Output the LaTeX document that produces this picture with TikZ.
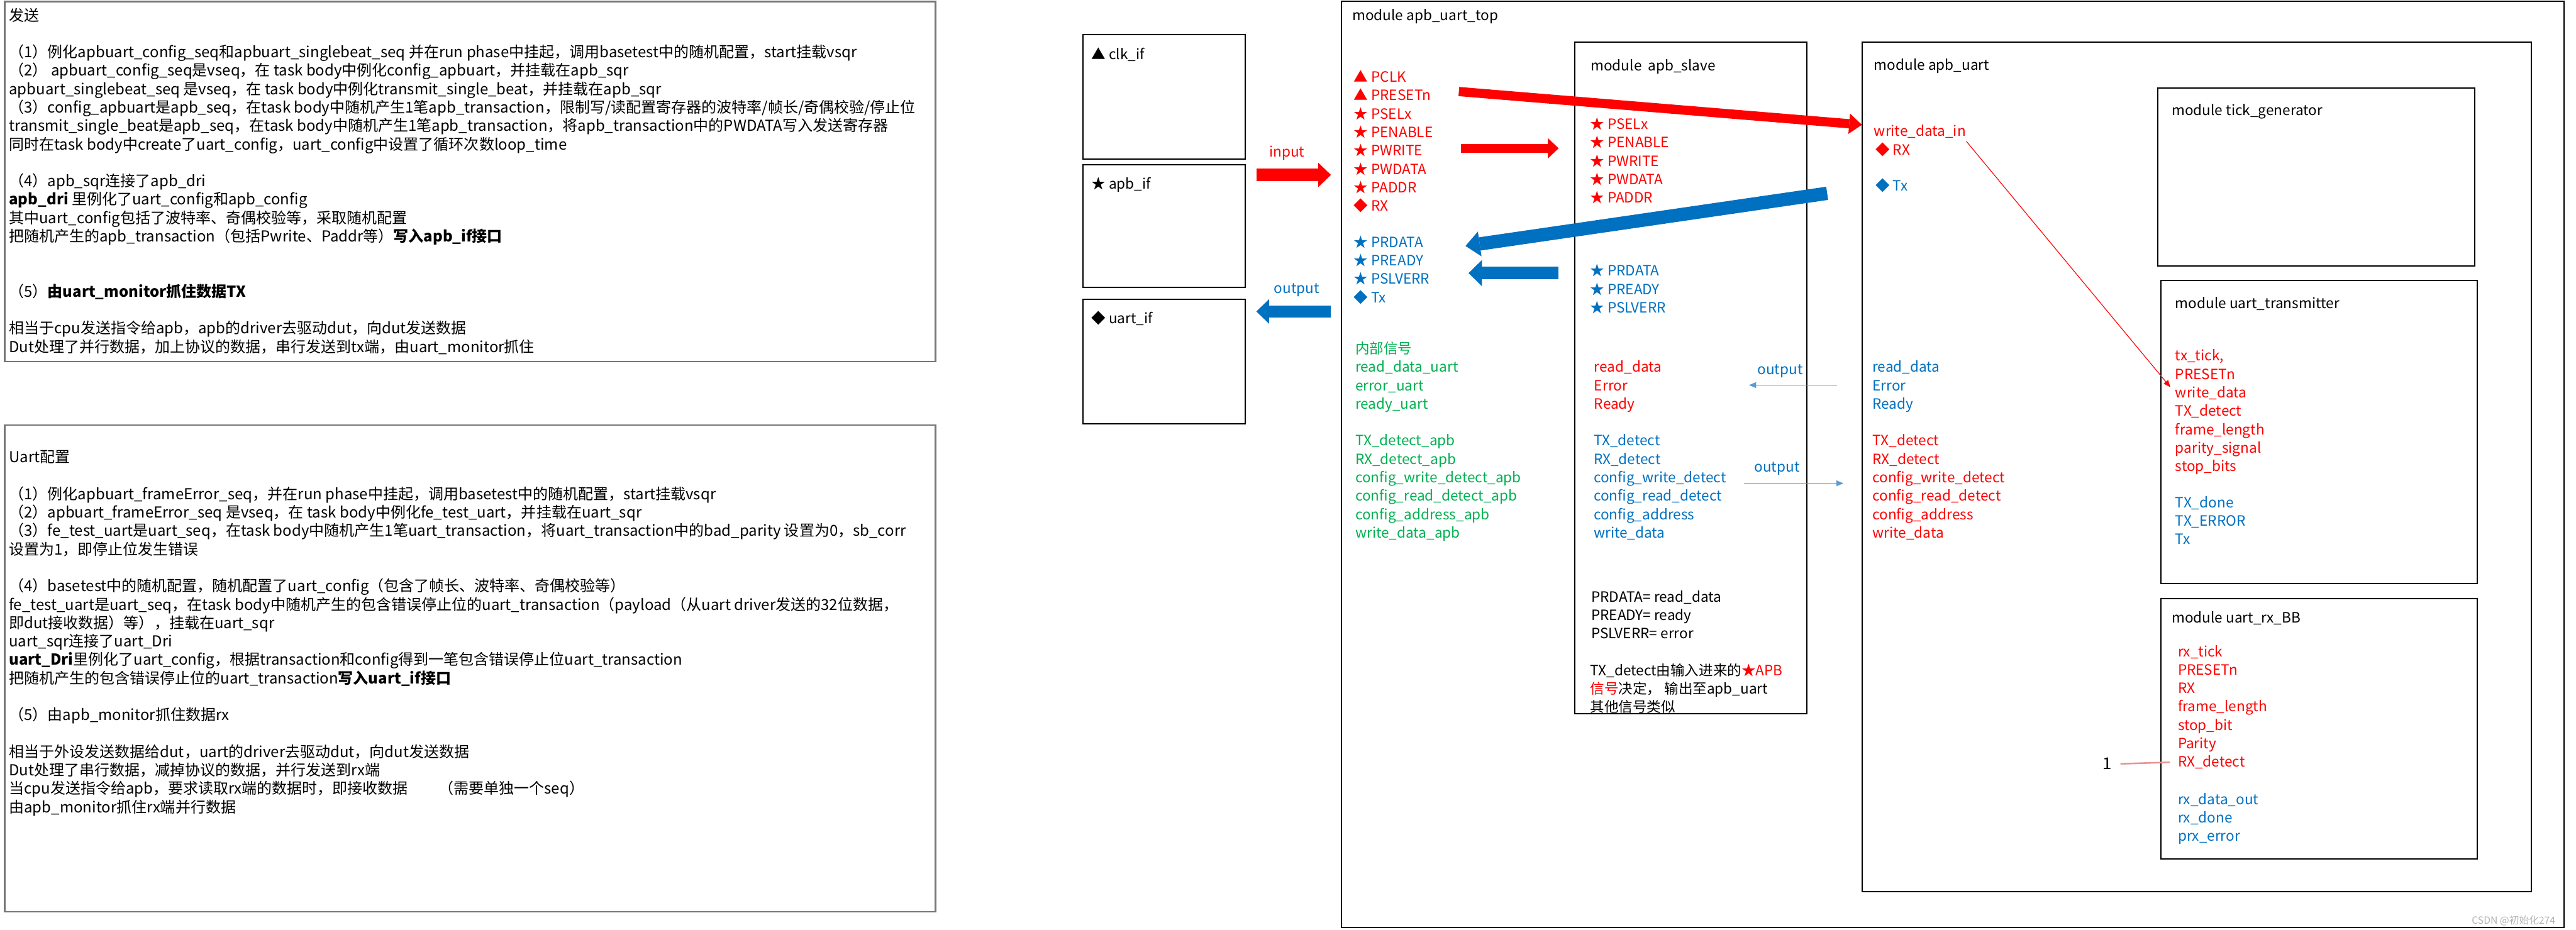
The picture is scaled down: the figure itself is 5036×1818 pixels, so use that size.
\documentclass[tikz,border=0pt]{standalone}
\usepackage{fontspec}
\setmainfont{Noto Sans CJK SC}
\usepackage{tikz}
\usetikzlibrary{arrows.meta}
\definecolor{sigred}{HTML}{FF0000}
\definecolor{sigblue}{HTML}{0070C0}
\definecolor{siggreen}{HTML}{00B050}
\definecolor{linkblue}{HTML}{5B9BD5}
\definecolor{linkpink}{HTML}{E89494}
\definecolor{framegray}{HTML}{767676}
\tikzset{notebox/.style={draw=framegray,line width=.9pt},
 modbox/.style={draw=black,line width=.7pt},
 noteline/.style={anchor=west,inner sep=0pt,text=black,
  font=\fontsize{8.4}{10}\selectfont,text height=.8em,text depth=.25em},
 sig/.style={anchor=west,inner sep=0pt,text=black,
  font=\fontsize{7.9}{9}\selectfont,text height=.8em,text depth=.25em},
 flowlabel/.style={sig,anchor=center},
 blockarrow/.style n args={4}{draw=#1,line width=#2,
  -{Triangle[length=#3,width=#4,line width=0pt 0]}},
 thinarrow/.style={draw=#1,line width=.5pt,-{Triangle[length=1.4mm,width=1.1mm]}}}
\newcommand{\sigcol}[5]{%
 \foreach \s [count=\i from 0] in {#5}
  \node[sig,text=#4] (#1\i) at (#2,{#3+36*\i}) {\s};}
\newcommand{\noteline}[2]{\node[noteline] (note#1) at (17,#1) {#2};}

\begin{document}
\catcode`\_=12
\begin{tikzpicture}[x=.1mm,y=-.1mm]
 \useasboundingbox (0,0) rectangle (5036,1818);
 % send notes
 \draw[notebox] (9,3) rectangle (1829,707);
 \noteline{31}{发送}
 \noteline{103}{（1）例化apbuart_config_seq和apbuart_singlebeat_seq 并在run phase中挂起，调用basetest中的随机配置，start挂载vsqr}
 \noteline{139}{（2） apbuart_config_seq是vseq，在 task body中例化config_apbuart，并挂载在apb_sqr}
 \noteline{175}{apbuart_singlebeat_seq 是vseq，在 task body中例化transmit_single_beat，并挂载在apb_sqr}
 \noteline{211}{（3）config_apbuart是apb_seq，在task body中随机产生1笔apb_transaction，限制写/读配置寄存器的波特率/帧长/奇偶校验/停止位}
 \noteline{247}{transmit_single_beat是apb_seq，在task body中随机产生1笔apb_transaction，将apb_transaction中的PWDATA写入发送寄存器}
 \noteline{283}{同时在task body中create了uart_config，uart_config中设置了循环次数loop_time}
 \noteline{355}{（4）apb_sqr连接了apb_dri}
 \noteline{391}{\textbf{apb_dri} 里例化了uart_config和apb_config}
 \noteline{427}{其中uart_config包括了波特率、奇偶校验等，采取随机配置}
 \noteline{463}{把随机产生的apb_transaction（包括Pwrite、Paddr等）\textbf{写入apb_if接口}}
 \noteline{571}{（5）\textbf{由uart_monitor抓住数据TX}}
 \noteline{643}{相当于cpu发送指令给apb，apb的driver去驱动dut，向dut发送数据}
 \noteline{679}{Dut处理了并行数据，加上协议的数据，串行发送到tx端，由uart_monitor抓住}
 % uart notes
 \draw[notebox] (9,831) rectangle (1829,1783);
 \noteline{895}{Uart配置}
 \noteline{967}{（1）例化apbuart_frameError_seq，并在run phase中挂起，调用basetest中的随机配置，start挂载vsqr}
 \noteline{1003}{（2）apbuart_frameError_seq 是vseq，在 task body中例化fe_test_uart，并挂载在uart_sqr}
 \noteline{1039}{（3）fe_test_uart是uart_seq，在task body中随机产生1笔uart_transaction，将uart_transaction中的bad_parity 设置为0，sb_corr}
 \noteline{1075}{设置为1，即停止位发生错误}
 \noteline{1147}{（4）basetest中的随机配置，随机配置了uart_config（包含了帧长、波特率、奇偶校验等）}
 \noteline{1183}{fe_test_uart是uart_seq，在task body中随机产生的包含错误停止位的uart_transaction（payload（从uart driver发送的32位数据，}
 \noteline{1219}{即dut接收数据）等），挂载在uart_sqr}
 \noteline{1255}{uart_sqr连接了uart_Dri}
 \noteline{1291}{\textbf{uart_Dri}里例化了uart_config，根据transaction和config得到一笔包含错误停止位uart_transaction}
 \noteline{1327}{把随机产生的包含错误停止位的uart_transaction\textbf{写入uart_if接口}}
 \noteline{1399}{（5）由apb_monitor抓住数据rx}
 \noteline{1471}{相当于外设发送数据给dut，uart的driver去驱动dut，向dut发送数据}
 \noteline{1507}{Dut处理了串行数据，减掉协议的数据，并行发送到rx端}
 \noteline{1543}{当cpu发送指令给apb，要求读取rx端的数据时，即接收数据\hspace{6mm}（需要单独一个seq）}
 \noteline{1579}{由apb_monitor抓住rx端并行数据}
 % interfaces
 \draw[modbox] (2117,68) rectangle (2434,311);
 \node[sig] (clkif) at (2133,107) {▲ clk_if};
 \draw[modbox] (2117,322) rectangle (2434,562);
 \node[sig] (apbif) at (2133,360) {★ apb_if};
 \draw[modbox] (2117,585) rectangle (2434,829);
 \node[sig] (uartif) at (2133,623) {◆ uart_if};
 \node[flowlabel,text=sigred] (inlbl) at (2516,297) {input};
 \coordinate (inA) at (2456,342);
 \coordinate (inB) at (2602,342);
 \draw[blockarrow={sigred}{2.4mm}{2.5mm}{4.8mm}] (inA) -- (inB);
 \node[flowlabel,text=sigblue] (outlbl) at (2535,564) {output};
 \coordinate (outA) at (2602,609);
 \coordinate (outB) at (2456,609);
 \draw[blockarrow={sigblue}{2.4mm}{2.5mm}{4.8mm}] (outA) -- (outB);
 % top module
 \draw[modbox] (2623,3) rectangle (5013,1813);
 \node[sig] (toptitle) at (2643,30) {module apb_uart_top};
 \sigcol{topin}{2646}{151}{sigred}{▲ PCLK,▲ PRESETn,★ PSELx,★ PENABLE,★ PWRITE,★ PWDATA,★ PADDR,◆ RX}
 \sigcol{topout}{2646}{474}{sigblue}{★ PRDATA,★ PREADY,★ PSLVERR,◆ Tx}
 \sigcol{inner}{2649}{682}{siggreen}{内部信号,read_data_uart,error_uart,ready_uart,{},TX_detect_apb,RX_detect_apb,config_write_detect_apb,config_read_detect_apb,config_address_apb,write_data_apb}
 % apb slave
 \draw[modbox] (3079,82) rectangle (3532,1396);
 \node[sig] (slavetitle) at (3109,129) {module\ \ apb_slave};
 \sigcol{slin}{3108}{243}{sigred}{★ PSELx,★ PENABLE,★ PWRITE,★ PWDATA,★ PADDR}
 \sigcol{slout}{3108}{530}{sigblue}{★ PRDATA,★ PREADY,★ PSLVERR}
 \sigcol{slrd}{3116}{718}{sigred}{read_data,Error,Ready}
 \sigcol{sldet}{3115}{862}{sigblue}{TX_detect,RX_detect,config_write_detect,config_read_detect,config_address,write_data}
 \sigcol{sleq}{3110}{1167}{black}{PRDATA= read_data,PREADY= ready,PSLVERR= error}
 \sigcol{slnote}{3108}{1311}{black}{TX_detect由输入进来的\textcolor{sigred}{★APB},\textcolor{sigred}{信号}决定，\ 输出至apb_uart,其他信号类似}
 \node[flowlabel,text=sigblue] (rdlbl) at (3480,723) {output};
 \coordinate (rdA) at (3591,753);
 \coordinate (rdB) at (3419,753);
 \draw[thinarrow=linkblue] (rdA) -- (rdB);
 \node[flowlabel,text=sigblue] (detlbl) at (3474,913) {output};
 \coordinate (detA) at (3409,945);
 \coordinate (detB) at (3604,945);
 \draw[thinarrow=linkblue] (detA) -- (detB);
 % thick links
 \coordinate (wrA) at (2852,179);
 \coordinate (wrB) at (3640,244);
 \draw[blockarrow={sigred}{1.8mm}{2.5mm}{4mm}] (wrA) -- (wrB);
 \coordinate (selA) at (2856,290);
 \coordinate (selB) at (3047,290);
 \draw[blockarrow={sigred}{1.8mm}{2.1mm}{4mm}] (selA) -- (selB);
 \coordinate (rdoA) at (3572,378);
 \coordinate (rdoB) at (2865,481);
 \draw[blockarrow={sigblue}{2.6mm}{2.8mm}{4.9mm}] (rdoA) -- (rdoB);
 \coordinate (rdyA) at (3047,534);
 \coordinate (rdyB) at (2871,534);
 \draw[blockarrow={sigblue}{2.5mm}{2.6mm}{5.1mm}] (rdyA) -- (rdyB);
 % apb uart
 \draw[modbox] (3640,82) rectangle (4949,1744);
 \node[sig] (uarttitle) at (3663,128) {module apb_uart};
 \node[sig,text=sigred] (wdin) at (3663,257) {write_data_in};
 \node[sig,text=sigred] (urx) at (3666,293) {◆ RX};
 \node[sig,text=sigblue] (utx) at (3666,364) {◆ Tx};
 \sigcol{urd}{3660}{718}{sigblue}{read_data,Error,Ready}
 \sigcol{udet}{3660}{862}{sigred}{TX_detect,RX_detect,config_write_detect,config_read_detect,config_address,write_data}
 \draw[modbox] (4218,172) rectangle (4838,520);
 \node[sig] (ticktitle) at (4245,216) {module tick_generator};
 \draw[modbox] (4225,548) rectangle (4843,1141);
 \node[sig] (txtitle) at (4252,593) {module uart_transmitter};
 \sigcol{txin}{4252}{696}{sigred}{{tx_tick,},PRESETn,write_data,TX_detect,frame_length,parity_signal,stop_bits}
 \sigcol{txout}{4252}{983}{sigblue}{TX_done,TX_ERROR,Tx}
 \draw[modbox] (4225,1170) rectangle (4843,1680);
 \node[sig] (rxtitle) at (4245,1208) {module uart_rx_BB};
 \sigcol{rxin}{4257}{1274}{sigred}{rx_tick,PRESETn,RX,frame_length,stop_bit,Parity,RX_detect}
 \sigcol{rxout}{4257}{1563}{sigblue}{rx_data_out,rx_done,prx_error}
 \draw[thinarrow=sigred,line width=.4pt,shorten >=1.4mm] (wdin.south east) -- (txin2.west);
 \node[flowlabel,font=\fontsize{9}{10}\selectfont] (one) at (4120,1494) {1};
 \draw[linkpink,line width=.9pt,shorten <=1.6mm,shorten >=1.5mm] (one.east) -- (rxin6.west);
 \node[anchor=east,text=gray!60,font=\fontsize{5.5}{6}\selectfont] (mark) at (5008,1800) {CSDN @初始化274};
\end{tikzpicture}
\end{document}
